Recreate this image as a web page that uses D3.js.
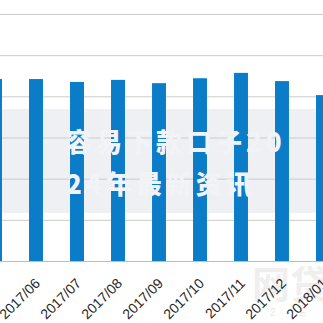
<!DOCTYPE html>
<html>
<head>
<meta charset="UTF-8">
<script src="https://cdnjs.cloudflare.com/ajax/libs/d3/7.8.5/d3.min.js"></script>
<style>
  body { margin: 0; background: #fff; }
  svg { display: block; }
  .x-axis text { font-family: "Liberation Sans", Arial, sans-serif; font-size: 14px; fill: #262626; }
</style>
</head>
<body>
<div id="chart"></div>
<script>
// chart data
const months = ["2017/05", "2017/06", "2017/07", "2017/08", "2017/09", "2017/10", "2017/11", "2017/12", "2018/01"];
const values = [442, 442, 435, 440, 432, 444, 457, 437, 403];
const yTicks = [0, 100, 200, 300, 400, 500, 600];
const overlayLines = ["容易下款口子20", "24年最新资讯"];

const w = 323, h = 323;
const baseY = 261, topY = 14;
const bandColor = "#eef0f3";

const svg = d3.select("#chart").append("svg")
    .attr("width", w)
    .attr("height", h);

const x = d3.scaleBand()
    .domain(months)
    .range([-25.5, 343.5])
    .paddingInner(0.66)
    .paddingOuter(0.33);

const y = d3.scaleLinear()
    .domain([0, 600])
    .range([baseY, topY]);

// watermark (behind everything)
svg.append("text")
    .attr("x", 252)
    .attr("y", 298)
    .attr("font-family", "Noto Sans CJK SC")
    .attr("font-size", 38)
    .attr("font-weight", "bold")
    .attr("fill", "#efefef")
    .text("网贷");
svg.append("text")
    .attr("x", 270)
    .attr("y", 316)
    .attr("font-family", "Liberation Sans, sans-serif")
    .attr("font-size", 10)
    .attr("fill", "#e8e8e8")
    .attr("letter-spacing", 24)
    .text("2E");

// grey banner behind the bars
svg.append("rect")
    .attr("x", 0)
    .attr("y", 109)
    .attr("width", w)
    .attr("height", 104)
    .attr("fill", bandColor);

// gridlines
const grid = svg.append("g")
    .call(d3.axisLeft(y).tickValues(yTicks).tickSize(-w).tickFormat(""));
grid.select(".domain").remove();
grid.selectAll(".tick line").attr("stroke", "#cbcbcb");

// bars
svg.selectAll("rect.bar")
    .data(values)
    .enter()
    .append("rect")
    .attr("class", "bar")
    .attr("x", (d, i) => x(months[i]))
    .attr("y", d => y(d))
    .attr("width", x.bandwidth())
    .attr("height", d => y(0) - y(d))
    .attr("fill", "#0a7cc8");

// x axis
const xAxis = svg.append("g")
    .attr("class", "x-axis")
    .attr("transform", "translate(0," + baseY + ")")
    .call(d3.axisBottom(x).tickSize(0));
xAxis.select(".domain").attr("stroke", "#bdbdbd");
xAxis.selectAll("text")
    .attr("text-anchor", "end")
    .attr("dx", "0")
    .attr("dy", "0")
    .attr("transform", "translate(3,21) rotate(-45)");

// overlay text, same tint as the banner
svg.selectAll("text.overlay")
    .data(overlayLines)
    .enter()
    .append("text")
    .attr("class", "overlay")
    .attr("x", 66)
    .attr("y", (d, i) => 152 + i * 42)
    .attr("font-family", "Noto Sans CJK SC")
    .attr("font-weight", "900")
    .attr("font-size", 26)
    .attr("letter-spacing", 4)
    .attr("fill", "#f1f3f6")
    .text(d => d);
</script>
</body>
</html>
